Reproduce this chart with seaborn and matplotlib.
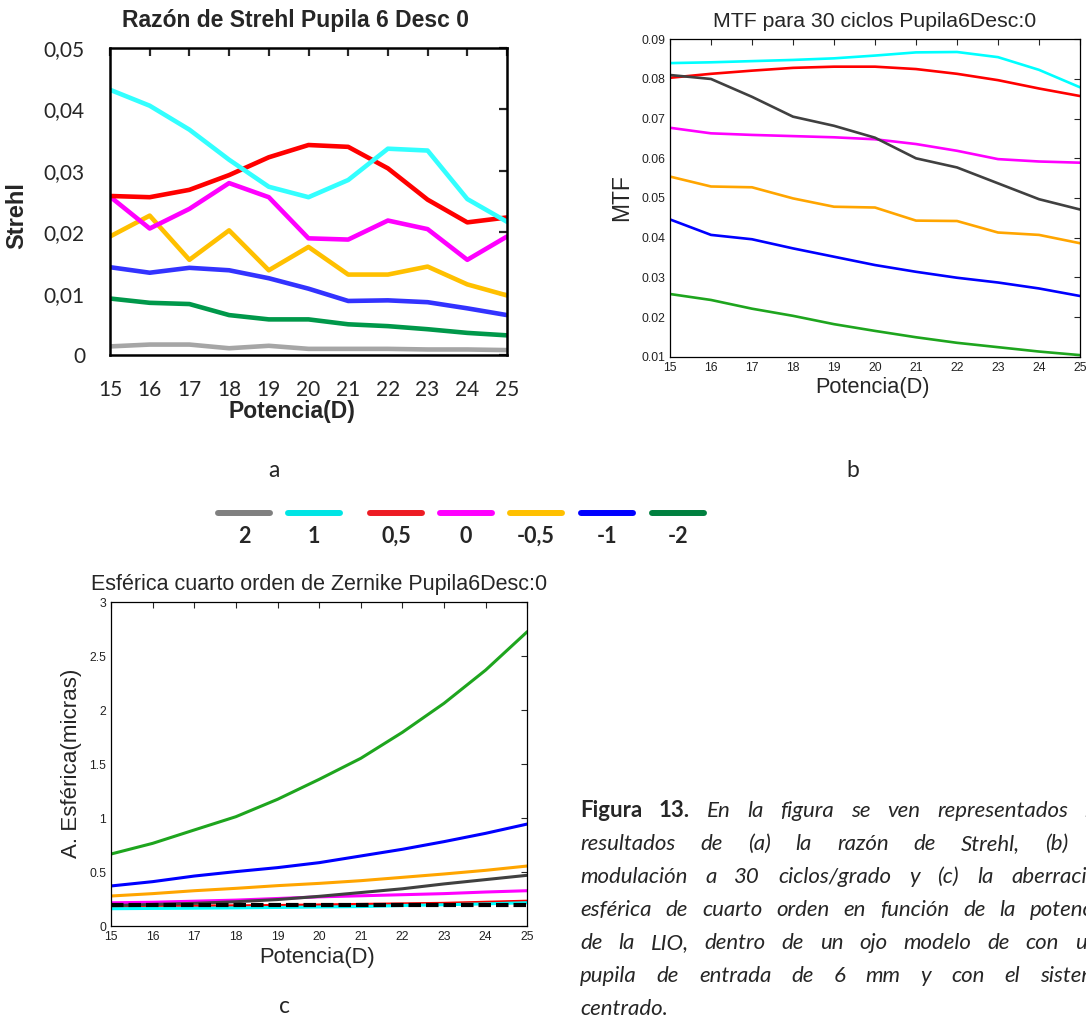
import matplotlib
matplotlib.use('Agg')
import matplotlib.pyplot as plt
import seaborn as sns
import pandas as pd

# potencia de la LIO (D)
potencia = [15, 16, 17, 18, 19, 20, 21, 22, 23, 24, 25]
grupos = ['2', '1', '0,5', '0', '-0,5', '-1', '-2']

# (a) razon de Strehl
strehl_2 = [0.0014, 0.0017, 0.0017, 0.0011, 0.0015, 0.0010, 0.0010, 0.0010, 0.0009, 0.0009, 0.0008]
strehl_1 = [0.0432, 0.0406, 0.0367, 0.0318, 0.0274, 0.0257, 0.0285, 0.0336, 0.0333, 0.0254, 0.0217]
strehl_05 = [0.0259, 0.0257, 0.0269, 0.0293, 0.0322, 0.0342, 0.0339, 0.0304, 0.0253, 0.0216, 0.0224]
strehl_0 = [0.0258, 0.0206, 0.0238, 0.0280, 0.0257, 0.0190, 0.0188, 0.0219, 0.0205, 0.0155, 0.0193]
strehl_m05 = [0.0193, 0.0227, 0.0155, 0.0203, 0.0138, 0.0176, 0.0131, 0.0131, 0.0144, 0.0115, 0.0097]
strehl_m1 = [0.0143, 0.0134, 0.0142, 0.0138, 0.0125, 0.0108, 0.0088, 0.0089, 0.0086, 0.0076, 0.0065]
strehl_m2 = [0.0092, 0.0085, 0.0083, 0.0065, 0.0058, 0.0058, 0.0050, 0.0047, 0.0042, 0.0036, 0.0032]

# (b) MTF a 30 ciclos/grado
mtf_2 = [0.0810, 0.0800, 0.0755, 0.0705, 0.0682, 0.0652, 0.0600, 0.0577, 0.0537, 0.0497, 0.0471]
mtf_1 = [0.0840, 0.0842, 0.0845, 0.0848, 0.0852, 0.0859, 0.0867, 0.0868, 0.0855, 0.0823, 0.0779]
mtf_05 = [0.0803, 0.0813, 0.0821, 0.0828, 0.0831, 0.0831, 0.0825, 0.0813, 0.0797, 0.0776, 0.0757]
mtf_0 = [0.0677, 0.0663, 0.0659, 0.0656, 0.0653, 0.0648, 0.0636, 0.0619, 0.0598, 0.0592, 0.0589]
mtf_m05 = [0.0554, 0.0529, 0.0527, 0.0499, 0.0478, 0.0476, 0.0443, 0.0442, 0.0413, 0.0407, 0.0386]
mtf_m1 = [0.0446, 0.0407, 0.0396, 0.0373, 0.0352, 0.0331, 0.0314, 0.0299, 0.0287, 0.0272, 0.0253]
mtf_m2 = [0.0258, 0.0243, 0.0221, 0.0203, 0.0182, 0.0165, 0.0149, 0.0135, 0.0124, 0.0113, 0.0104]

# (c) esferica de cuarto orden (micras)
esf_2 = [0.19, 0.20, 0.21, 0.225, 0.245, 0.275, 0.31, 0.345, 0.39, 0.43, 0.47]
esf_1 = [0.16, 0.163, 0.165, 0.168, 0.172, 0.176, 0.18, 0.19, 0.197, 0.205, 0.216]
esf_05 = [0.18, 0.18, 0.185, 0.187, 0.19, 0.195, 0.20, 0.205, 0.21, 0.22, 0.23]
esf_0 = [0.215, 0.22, 0.23, 0.24, 0.255, 0.27, 0.28, 0.29, 0.30, 0.315, 0.327]
esf_m05 = [0.278, 0.30, 0.327, 0.349, 0.374, 0.395, 0.42, 0.451, 0.482, 0.516, 0.556]
esf_m1 = [0.371, 0.411, 0.463, 0.504, 0.541, 0.587, 0.649, 0.711, 0.782, 0.859, 0.945]
esf_m2 = [0.667, 0.766, 0.89, 1.013, 1.174, 1.359, 1.554, 1.795, 2.064, 2.372, 2.728]
esf_ref = 0.19

strehl_ticks = ['0', '0,01', '0,02', '0,03', '0,04', '0,05']
mtf_ticks = ['0.01', '0.02', '0.03', '0.04', '0.05', '0.06', '0.07', '0.08', '0.09']
esf_ticks = ['0', '0.5', '1', '1.5', '2', '2.5', '3']

pal_a = dict(zip(grupos, ['#a6a6a6', '#33ffff', '#ff0000', '#ff00ff', '#ffc000', '#3333ff', '#00984a']))
pal_bc = dict(zip(grupos, ['#404040', '#00ffff', '#ff0000', '#ff00ff', '#ffa500', '#0000ff', '#1ea51e']))
pal_leg = dict(zip(grupos, ['#808080', '#00e5e5', '#ed1c24', '#ff00ff', '#ffc000', '#0000ff', '#00803f']))


def to_long(series):
    rows = []
    for g, vals in zip(grupos, series):
        for p, v in zip(potencia, vals):
            rows.append({'potencia': p, 'valor': v, 'grupo': g})
    return pd.DataFrame(rows)


df_a = to_long([strehl_2, strehl_1, strehl_05, strehl_0, strehl_m05, strehl_m1, strehl_m2])
df_b = to_long([mtf_2, mtf_1, mtf_05, mtf_0, mtf_m05, mtf_m1, mtf_m2])
df_c = to_long([esf_2, esf_1, esf_05, esf_0, esf_m05, esf_m1, esf_m2])

sns.set_style('white')
plt.rcParams['font.family'] = ['Liberation Sans', 'DejaVu Sans']

W, H = 1086, 1021
fig = plt.figure(figsize=(W / 100, H / 100), dpi=100)


def px_axes(left, right, top, bottom):
    return fig.add_axes([left / W, 1 - bottom / H, (right - left) / W, (bottom - top) / H])


# ---------- (a) Strehl ----------
ax = px_axes(110, 507, 48, 355)
sns.lineplot(data=df_a, x='potencia', y='valor', hue='grupo', hue_order=grupos[::-1],
             palette=pal_a, linewidth=3.3, legend=False, ax=ax, estimator=None)
ax.set_xlim(15, 25)
ax.set_ylim(0, 0.05)
ax.set_xticks(potencia)
ax.set_yticks([0, 0.01, 0.02, 0.03, 0.04, 0.05])
ax.set_yticklabels(strehl_ticks)
ax.tick_params(direction='in', top=True, right=True, length=6, width=1.6,
               labelsize=15, pad=18)
for lab in ax.get_xticklabels() + ax.get_yticklabels():
    lab.set_family('Lato')
for s in ax.spines.values():
    s.set_linewidth(1.8)
    s.set_color('black')
ax.set_title('Razón de Strehl Pupila 6 Desc 0', fontsize=16.5, fontweight='bold', x=0.466, pad=15)
ax.set_xlabel('Potencia(D)', fontsize=16.5, fontweight='bold')
ax.set_ylabel('Strehl', fontsize=17, fontweight='bold')
ax.xaxis.set_label_coords(0.458, -0.145)
ax.yaxis.set_label_coords(-0.207, 0.453)


def matlab_style(ax):
    ax.tick_params(direction='in', top=True, right=True, length=4, width=0.8,
                   labelsize=8.8, pad=3.5, labelcolor='#222222')
    for s in ax.spines.values():
        s.set_linewidth(0.9)
        s.set_color('black')


# ---------- (b) MTF ----------
ax = px_axes(670, 1080, 39.3, 356.7)
sns.lineplot(data=df_b, x='potencia', y='valor', hue='grupo', hue_order=grupos[::-1],
             palette=pal_bc, linewidth=1.9, legend=False, ax=ax, estimator=None)
ax.set_xlim(15, 25)
ax.set_ylim(0.01, 0.09)
ax.set_xticks(potencia)
ax.set_yticks([0.01, 0.02, 0.03, 0.04, 0.05, 0.06, 0.07, 0.08, 0.09])
ax.set_yticklabels(mtf_ticks)
matlab_style(ax)
ax.set_title('MTF para 30 ciclos Pupila6Desc:0', fontsize=15.3, pad=9)
ax.set_xlabel('Potencia(D)', fontsize=15.7)
ax.set_ylabel('MTF', fontsize=16.5)
ax.xaxis.set_label_coords(0.495, -0.064)
ax.yaxis.set_label_coords(-0.09, 0.5)

# ---------- (c) Esferica ----------
ax = px_axes(111, 527.3, 602.3, 926)
sns.lineplot(data=df_c, x='potencia', y='valor', hue='grupo', hue_order=grupos[::-1],
             palette=pal_bc, linewidth=2.2, legend=False, ax=ax, estimator=None)
ax.axhline(esf_ref, color='black', linewidth=3, linestyle=(0, (3, 1.2)))
ax.set_xlim(15, 25)
ax.set_ylim(0, 3)
ax.set_xticks(potencia)
ax.set_yticks([0, 0.5, 1, 1.5, 2, 2.5, 3])
ax.set_yticklabels(esf_ticks)
matlab_style(ax)
ax.set_title('Esférica cuarto orden de Zernike Pupila6Desc:0', fontsize=15.5, pad=9)
ax.set_xlabel('Potencia(D)', fontsize=15.8)
ax.set_ylabel('A. Esférica(micras)', fontsize=16.1)
ax.xaxis.set_label_coords(0.495, -0.066)
ax.yaxis.set_label_coords(-0.07, 0.504)

# ---------- leyenda comun ----------
leg = fig.add_axes([0, 0, 1, 1])
leg.set_xlim(0, W)
leg.set_ylim(H, 0)
leg.axis('off')
leg_x = [244, 314, 396, 466, 536, 607, 678]
for xc, g in zip(leg_x, grupos):
    leg.plot([xc - 26, xc + 26], [513, 513], color=pal_leg[g], linewidth=4.3,
             solid_capstyle='round')
    leg.text(xc, 536, g, ha='center', va='center', fontsize=15.5, fontweight='bold',
             family='Lato')

for txt, x, y in [('a', 274, 470), ('b', 853, 470), ('c', 284, 1006)]:
    leg.text(x, y, txt, ha='center', va='center', fontsize=16.5, family='Lato')

# ---------- pie de figura (justificado) ----------
renderer = fig.canvas.get_renderer()
cap_lines = [
    [('Figura', 'bold', 'normal'), ('13.', 'bold', 'normal')] +
    [(w, 'normal', 'italic') for w in 'En la figura se ven representados los'.split()],
    [(w, 'normal', 'italic') for w in 'resultados de (a) la razón de Strehl, (b) la'.split()],
    [(w, 'normal', 'italic') for w in 'modulación a 30 ciclos/grado y (c) la aberración'.split()],
    [(w, 'normal', 'italic') for w in 'esférica de cuarto orden en función de la potencia'.split()],
    [(w, 'normal', 'italic') for w in 'de la LIO, dentro de un ojo modelo de con una'.split()],
    [(w, 'normal', 'italic') for w in 'pupila de entrada de 6 mm y con el sistema'.split()],
    [(w, 'normal', 'italic') for w in 'centrado.'.split()],
]
x0, x1 = 580, 1110
for k, words in enumerate(cap_lines):
    y = 817 + 33 * k
    texts = [leg.text(x0, y, w, fontsize=16, fontweight=wt, fontstyle=st,
                      family='Lato', va='baseline', ha='left') for w, wt, st in words]
    widths = [t.get_window_extent(renderer).width for t in texts]
    gap = 5
    if k < len(cap_lines) - 1 and len(texts) > 1:
        gap = max(4, (x1 - x0 - sum(widths)) / (len(texts) - 1))
    x = x0
    for t, w in zip(texts, widths):
        t.set_x(x)
        x += w + gap

fig.savefig('out.png', dpi=100)
